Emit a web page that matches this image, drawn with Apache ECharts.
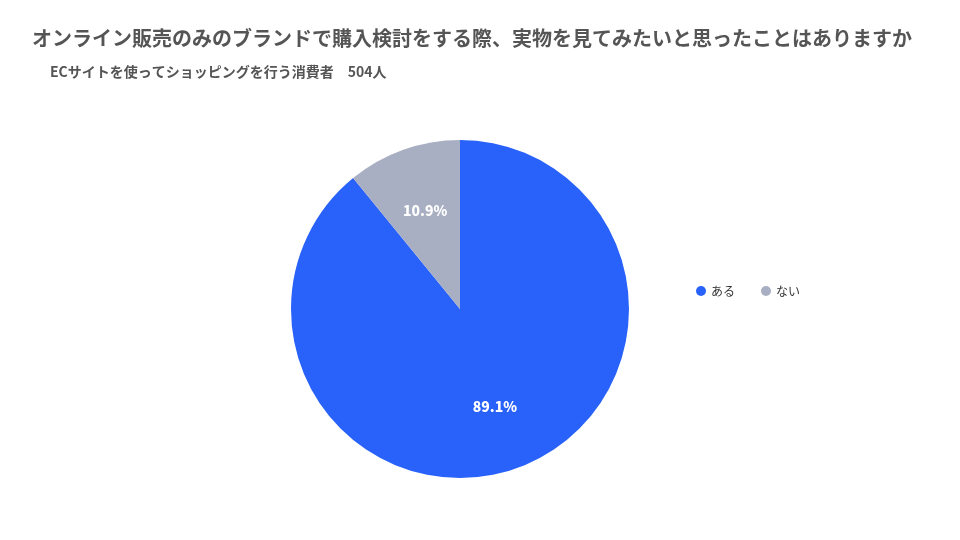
<!DOCTYPE html>
<html>
<head>
<meta charset="utf-8">
<script src="https://cdn.jsdelivr.net/npm/echarts@6/dist/echarts.min.js"></script>
<style>
html, body { margin: 0; padding: 0; background: #fff; }
#main { width: 960px; height: 540px; }
</style>
</head>
<body>
<div id="main"></div>
<script>
// data
var categories = ['ある', 'ない'];
var shares = [89.1, 10.9];
var sliceColors = ['#2962FA', '#A9AFC2'];

var pieData = [];
for (var i = 0; i < categories.length; i++) {
  pieData.push({ name: categories[i], value: shares[i], itemStyle: { color: sliceColors[i] } });
}

var myChart = echarts.init(document.getElementById('main'));

var option = {
  backgroundColor: '#fff',
  textStyle: { fontFamily: '"Noto Sans CJK JP", "Noto Sans", sans-serif' },
  title: [
    {
      text: 'オンライン販売のみのブランドで購入検討をする際、実物を見てみたいと思ったことはありますか',
      left: 27,
      top: 23,
      textStyle: { fontSize: 20, fontWeight: 'bold', color: '#555' }
    },
    {
      text: 'ECサイトを使ってショッピングを行う消費者　504人',
      left: 45,
      top: 60,
      textStyle: { fontSize: 14, fontWeight: 'bold', color: '#555' }
    }
  ],
  legend: {
    data: categories,
    left: 691,
    top: 280,
    orient: 'horizontal',
    icon: 'circle',
    itemWidth: 10,
    itemHeight: 10,
    itemGap: 26,
    textStyle: { fontSize: 12, color: '#333' }
  },
  series: [
    {
      name: 'main',
      type: 'pie',
      center: [460, 309],
      radius: [0, 169],
      startAngle: 90,
      clockwise: true,
      animation: false,
      label: { show: false },
      labelLine: { show: false },
      data: pieData
    },
    {
      // transparent ring only used to place the percent labels further out
      name: 'labels',
      type: 'pie',
      center: [460, 309],
      radius: [33, 169],
      startAngle: 90,
      clockwise: true,
      animation: false,
      silent: true,
      legendHoverLink: false,
      itemStyle: { color: 'transparent' },
      label: {
        show: true,
        position: 'inside',
        formatter: function (p) { return p.value.toFixed(1) + '%'; },
        color: '#fff',
        fontSize: 14,
        fontWeight: 900
      },
      labelLine: { show: false },
      data: categories.map(function (c, i) { return { name: c, value: shares[i], itemStyle: { color: 'transparent' } }; })
    }
  ]
};

myChart.setOption(option);
</script>
</body>
</html>
